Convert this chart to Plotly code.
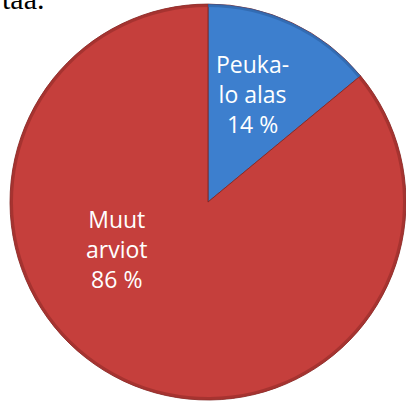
import plotly.graph_objects as go

labels = ["Peuka-<br>lo alas", "Muut<br>arviot"]
values = [14, 86]
colors = ["#3D7FCE", "#C53F3C"]
rim_colors = ["#2E64A8", "#9A2F2C"]
label_pos = [(0.621, 0.767), (0.288, 0.385)]

dom = dict(x=[0.0246, 1.0], y=[0.0123, 0.990])

fig = go.Figure()
fig.add_trace(go.Pie(
    labels=labels, values=values, sort=False, direction="clockwise", rotation=0,
    marker=dict(colors=colors, line=dict(color="#7E2522", width=0.8)),
    textinfo="none", hoverinfo="none", showlegend=False, domain=dom,
))
fig.add_trace(go.Pie(
    labels=labels, values=values, sort=False, direction="clockwise", rotation=0,
    hole=0.985,
    marker=dict(colors=rim_colors, line=dict(width=0)),
    opacity=0.7,
    textinfo="none", hoverinfo="none", showlegend=False, domain=dom,
))

total = sum(values)
for lab, v, (px, py) in zip(labels, values, label_pos):
    fig.add_annotation(
        text=f"{lab}<br>{round(100 * v / total)} %",
        xref="paper", yref="paper", x=px, y=py,
        xanchor="center", yanchor="middle", showarrow=False,
        font=dict(family="Open Sans", size=23, color="white"),
    )

fig.add_annotation(
    text="taa.", xref="paper", yref="paper", x=0.0, y=1 - 17 / 405,
    xanchor="left", yanchor="bottom", showarrow=False,
    font=dict(family="Liberation Serif", size=30, color="black"),
)

fig.update_layout(
    width=406, height=405,
    margin=dict(l=0, r=0, t=0, b=0),
    paper_bgcolor="white", plot_bgcolor="white",
)
fig.write_html("out.html", config={"displayModeBar": False},
               post_script="document.body.style.margin='0';")
